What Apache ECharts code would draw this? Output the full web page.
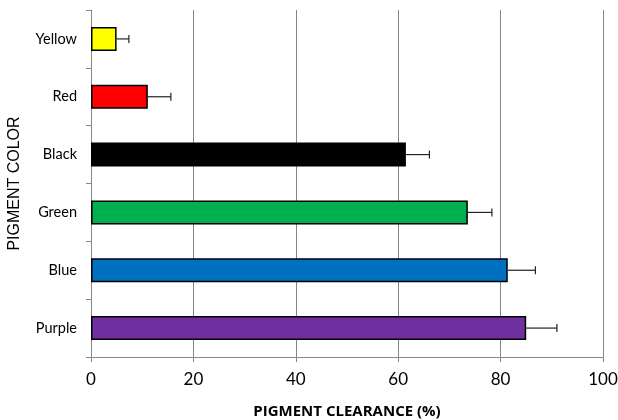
<!DOCTYPE html>
<html>
<head>
<meta charset="utf-8">
<script src="https://cdn.jsdelivr.net/npm/echarts@6/dist/echarts.min.js"></script>
<style>html,body{margin:0;padding:0;background:#fff}#c{width:618px;height:420px}</style>
</head>
<body>
<div id="c"></div>
<script>
var categories = ['Purple', 'Blue', 'Green', 'Black', 'Red', 'Yellow'];
var values = [85.0, 81.4, 73.6, 61.5, 11.1, 5.0];
var errors = [6.0, 5.4, 4.7, 4.6, 4.5, 2.4];
var barColors = ['#7030A0', '#0070C0', '#00B050', '#000000', '#FF0000', '#FFFF00'];
var xTicks = [0, 20, 40, 60, 80, 100];

var chart = echarts.init(document.getElementById('c'));
var font = '"Open Sans", "Noto Sans", sans-serif';
var labelFont = 'Lato, "Open Sans", sans-serif';
chart.setOption({
  animation: false,
  grid: { left: 91, right: 15, top: 10, bottom: 63, containLabel: false, outerBoundsMode: 'none' },
  xAxis: {
    type: 'value', min: xTicks[0], max: xTicks[xTicks.length - 1], interval: 20,
    name: 'PIGMENT CLEARANCE (%)', nameLocation: 'middle', nameGap: 47,
    nameTextStyle: { fontFamily: font, fontWeight: 'bold', fontSize: 15, color: '#000' },
    axisLine: { show: true, lineStyle: { color: '#868686', width: 1 } },
    axisTick: { show: true, inside: false, length: 5, lineStyle: { color: '#868686' } },
    axisLabel: { fontFamily: labelFont, fontSize: 17, color: '#000', margin: 14 },
    splitLine: { show: true, lineStyle: { color: '#868686', width: 1 } }
  },
  yAxis: {
    type: 'category', data: categories,
    name: 'PIGMENT COLOR', nameLocation: 'middle', nameGap: 68, nameRotate: 90,
    nameTextStyle: { fontFamily: '"Liberation Sans", Arial, sans-serif', fontWeight: 'normal', fontSize: 16, color: '#000' },
    axisLine: { show: true, lineStyle: { color: '#868686', width: 1 } },
    axisTick: { show: true, inside: false, length: 5, lineStyle: { color: '#868686' } },
    axisLabel: { fontFamily: labelFont, fontSize: 14.5, color: '#000', margin: 14 },
    splitLine: { show: false }
  },
  series: [
    {
      type: 'bar', barWidth: 24,
      data: values.map(function (v, i) {
        return { value: v, itemStyle: { color: barColors[i], borderColor: '#000', borderWidth: 1.5 } };
      }),
      z: 2
    },
    {
      type: 'custom', z: 3,
      data: values.map(function (v, i) { return [v, i, v + errors[i]]; }),
      encode: { x: [0, 2], y: 1 },
      renderItem: function (params, api) {
        var p0 = api.coord([api.value(0), api.value(1)]);
        var p1 = api.coord([api.value(2), api.value(1)]);
        var h = 4;
        var style = { stroke: '#222', lineWidth: 1.2 };
        return {
          type: 'group',
          children: [
            { type: 'line', shape: { x1: p0[0], y1: p0[1], x2: p1[0], y2: p1[1] }, style: style },
            { type: 'line', shape: { x1: p1[0], y1: p1[1] - h, x2: p1[0], y2: p1[1] + h }, style: style }
          ]
        };
      }
    }
  ]
});
</script>
</body>
</html>
